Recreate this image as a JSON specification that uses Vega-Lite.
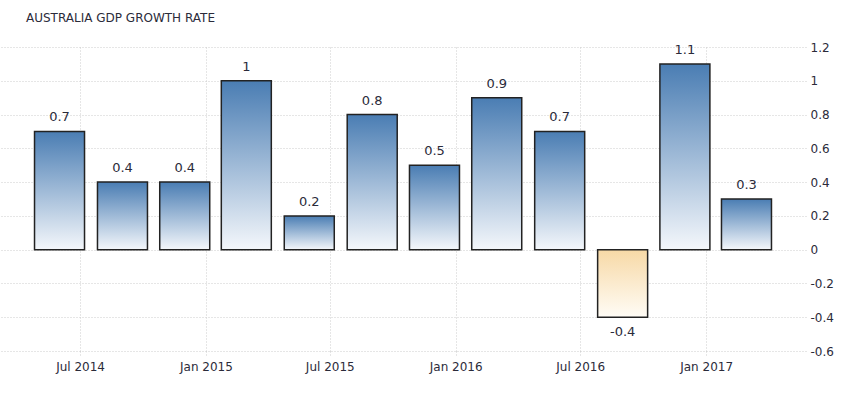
{
  "$schema": "https://vega.github.io/schema/vega-lite/v6.json",
  "width": 806,
  "height": 304,
  "autosize": {"type": "none"},
  "padding": {"left": 0, "top": 47, "right": 61, "bottom": 44},
  "background": "white",
  "title": {
    "text": "AUSTRALIA GDP GROWTH RATE",
    "anchor": "start",
    "frame": "group",
    "dx": 26,
    "offset": 16,
    "font": "DejaVu Sans",
    "fontSize": 12,
    "fontWeight": "normal",
    "color": "#2b2b3a"
  },
  "config": {
    "locale": {"number": {"decimal": ".", "thousands": ",", "grouping": [3], "currency": ["$", ""], "minus": "-"}},
    "view": {"stroke": null},
    "axis": {
      "labelFont": "DejaVu Sans",
      "labelFontSize": 12,
      "labelColor": "#2b2b3a",
      "gridColor": "#cccccc",
      "gridDash": [1, 2],
      "gridWidth": 1,
      "domain": false,
      "title": null
    }
  },
  "data": {
    "values": [
      {"date": "2014-06-01", "value": 0.7},
      {"date": "2014-09-01", "value": 0.4},
      {"date": "2014-12-01", "value": 0.4},
      {"date": "2015-03-01", "value": 1.0},
      {"date": "2015-06-01", "value": 0.2},
      {"date": "2015-09-01", "value": 0.8},
      {"date": "2015-12-01", "value": 0.5},
      {"date": "2016-03-01", "value": 0.9},
      {"date": "2016-06-01", "value": 0.7},
      {"date": "2016-09-01", "value": -0.4},
      {"date": "2016-12-01", "value": 1.1},
      {"date": "2017-03-01", "value": 0.3}
    ]
  },
  "encoding": {
    "x": {
      "field": "date",
      "type": "temporal",
      "scale": {"type": "utc", "domain": [1394064000000, 1495843200000], "padding": 0},
      "axis": {
        "format": "%b %Y",
        "tickCount": {"interval": "month", "step": 6},
        "grid": true,
        "ticks": true,
        "tickSize": 6,
        "tickColor": "#cccccc",
        "tickDash": [1, 2],
        "labelPadding": 4
      }
    },
    "y": {
      "field": "value",
      "type": "quantitative",
      "scale": {"domain": [-0.6, 1.2], "nice": false, "zero": false},
      "axis": {
        "orient": "right",
        "values": [-0.6, -0.4, -0.2, 0, 0.2, 0.4, 0.6, 0.8, 1, 1.2],
        "format": "~g",
        "ticks": false,
        "labelPadding": 4,
        "grid": true
      }
    }
  },
  "layer": [
    {
      "transform": [{"filter": "datum.value >= 0"}],
      "mark": {
        "type": "bar",
        "size": 50,
        "stroke": "#222222",
        "strokeWidth": 1.5,
        "color": {
          "gradient": "linear",
          "x1": 0, "y1": 0, "x2": 0, "y2": 1,
          "stops": [
            {"offset": 0, "color": "#4a7db3"},
            {"offset": 1, "color": "#f4f7fb"}
          ]
        }
      },
      "encoding": {"y2": {"datum": 0}}
    },
    {
      "transform": [{"filter": "datum.value < 0"}],
      "mark": {
        "type": "bar",
        "size": 50,
        "stroke": "#222222",
        "strokeWidth": 1.5,
        "color": {
          "gradient": "linear",
          "x1": 0, "y1": 0, "x2": 0, "y2": 1,
          "stops": [
            {"offset": 0, "color": "#f7d9a6"},
            {"offset": 1, "color": "#fffcf6"}
          ]
        }
      },
      "encoding": {"y2": {"datum": 0}}
    },
    {
      "transform": [{"filter": "datum.value >= 0"}],
      "mark": {"type": "text", "baseline": "alphabetic", "dy": -10, "font": "DejaVu Sans", "fontSize": 13, "color": "#2b2b3a"},
      "encoding": {"text": {"field": "value", "type": "quantitative", "format": "~g"}}
    },
    {
      "transform": [{"filter": "datum.value < 0"}],
      "mark": {"type": "text", "baseline": "top", "dy": 9, "font": "DejaVu Sans", "fontSize": 13, "color": "#2b2b3a"},
      "encoding": {"text": {"field": "value", "type": "quantitative", "format": "~g"}}
    }
  ]
}
